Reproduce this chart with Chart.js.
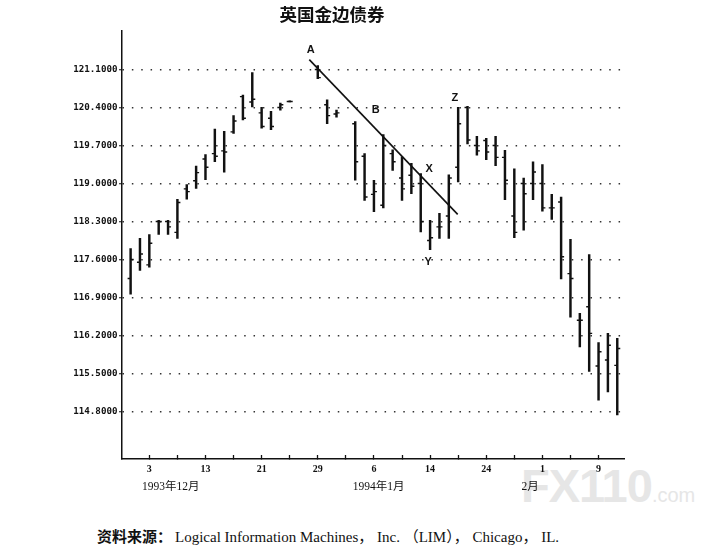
<!DOCTYPE html>
<html lang="zh">
<head>
<meta charset="utf-8">
<title>英国金边债券</title>
<script src="https://cdn.jsdelivr.net/npm/chart.js@4.4.1/dist/chart.umd.min.js"></script>
<style>
  html, body { margin: 0; padding: 0; background: #fff; }
  body { width: 702px; height: 553px; position: relative; overflow: hidden; }
  #box { position: absolute; left: 0; top: 0; width: 664px; height: 500px; z-index: 1; }
  #mark { position: absolute; left: 521px; top: 458px; color: #e6e6e6; white-space: nowrap; z-index: 0;
          font: bold 47px "Liberation Sans", Arial, sans-serif; letter-spacing: -1px; }
  #mark span { font-size: 20px; font-weight: normal; letter-spacing: 0; }
  #src { position: absolute; left: 97px; top: 528px; color: #111; white-space: nowrap; z-index: 2;
         font: 15px/16px "Liberation Serif", "Noto Sans CJK SC", serif; }
  #src b { font-family: "Noto Sans CJK SC", sans-serif; font-size: 15px; margin-right: 3px; }
</style>
</head>
<body>
<div id="mark">FX110<span>.com</span></div>
<div id="box"><canvas id="gilt" width="664" height="500"></canvas></div>
<div id="src"><b>资料来源：</b>Logical Information Machines， Inc. （LIM）， Chicago， IL.</div>
<script>
// 交易日序号：0 = 1993年12月3日，按周一至周五计；16、17、21 为休市日
var sessions = [-2, -1, 0, 1, 2, 3, 4, 5, 6, 7, 8, 9, 10, 11, 12, 13, 14, 15,
  18, 19, 20, 22, 23, 24, 25, 26, 27, 28, 29, 30, 31, 32, 33, 34, 35, 36,
  37, 38, 39, 40, 41, 42, 43, 44, 45, 46, 47, 48, 49, 50];

var opens = [117.25, 117.55, 117.50, 118.30, 118.30, 118.10, 118.90, 119.05, 119.45, 119.55,
  119.60, 119.95, 120.60, 120.50, 120.30, 120.20, 120.40, 120.51,
  121.10, 120.45, 120.28, 120.10, 119.50, 118.80, 118.60, 119.55, 119.10, 119.15, 119.00,
  117.95, 118.20, 118.40, 119.30, 120.40, 119.70, 119.79, 119.70, 119.48, 118.40, 119.00,
  119.00, 119.00, 118.55, 118.66, 117.34, 116.48, 116.73, 115.64, 115.75, 115.65];

var highs = [117.80, 117.99, 118.06, 118.32, 118.32, 118.71, 118.98, 119.32, 119.53, 120.00,
  119.96, 120.25, 120.63, 121.04, 120.40, 120.33, 120.48, 120.52,
  121.17, 120.54, 120.35, 120.14, 119.55, 119.06, 119.90, 119.62, 119.49, 119.37, 119.18,
  118.32, 118.45, 119.16, 120.40, 120.42, 119.87, 119.83, 119.87, 119.61, 119.27, 119.10,
  119.40, 119.35, 118.80, 118.75, 117.97, 116.61, 117.69, 116.07, 116.24, 116.15];

var lows = [116.96, 117.40, 117.46, 118.06, 118.06, 117.99, 118.71, 118.91, 119.07, 119.40,
  119.21, 119.92, 120.17, 120.41, 120.02, 119.99, 120.35, 120.50,
  120.93, 120.10, 120.22, 119.06, 118.69, 118.48, 118.55, 119.24, 118.69, 118.81, 118.11,
  117.78, 117.99, 117.99, 119.03, 119.73, 119.52, 119.44, 119.33, 118.70, 118.00, 118.14,
  118.70, 118.49, 118.34, 117.24, 116.54, 115.99, 115.54, 115.01, 115.16, 114.74];

var closes = [117.60, 117.70, 117.90, 118.30, 118.20, 118.65, 118.85, 119.20, 119.30, 119.50,
  119.58, 120.15, 120.20, 120.55, 120.05, 120.05, 120.45, 120.51,
  120.95, 120.25, 120.30, 119.40, 118.75, 118.85, 119.70, 119.40, 118.90, 118.95, 118.30,
  118.00, 118.20, 119.10, 120.10, 119.80, 119.60, 119.58, 119.48, 119.06, 118.10, 118.81,
  119.21, 118.55, 118.55, 117.65, 117.25, 116.48, 116.24, 115.90, 116.02, 115.96];

// 坐标轴刻度
var yTicks = [114.8, 115.5, 116.2, 116.9, 117.6, 118.3, 119.0, 119.7, 120.4, 121.1];
var tickSessions = [0, 3, 6, 9, 12, 15, 18, 21, 24, 27, 30, 33, 36, 39, 42, 45, 48];
var dayLabels = ['3', '', '13', '', '21', '', '29', '', '6', '', '14', '', '24', '', '1', '', '9'];
var monthSessions = [2.3, 24.5, 40.7];
var monthLabels = ['1993年12月', '1994年1月', '2月'];

// 趋势线 A → X 以及图中字母标注
var trendX = [17.09, 32.95];
var trendY = [121.28, 118.43];
var letterTexts = ['A', 'B', 'X', 'Y', 'Z'];
var letterX = [17.24, 24.2, 29.9, 29.8, 32.66];
var letterY = [121.45, 120.35, 119.26, 117.56, 120.58];

var INK = '#111';

var letterPlugin = {
  id: 'letters',
  afterDatasetsDraw: function (chart) {
    var c = chart.ctx, xs = chart.scales.x, ys = chart.scales.y;
    c.save();
    c.font = 'bold 11px "Liberation Sans", Arial, sans-serif';
    c.fillStyle = INK;
    c.textAlign = 'center';
    c.textBaseline = 'middle';
    letterTexts.forEach(function (t, i) {
      c.fillText(t, xs.getPixelForValue(letterX[i]), ys.getPixelForValue(letterY[i]));
    });
    c.restore();
  }
};

function tickDash(rotation, values) {
  return {
    type: 'scatter',
    data: sessions.map(function (s, i) { return { x: s, y: values[i] }; }),
    pointStyle: 'dash',
    pointRotation: rotation,
    pointRadius: 3,
    pointBorderWidth: 1.4,
    pointBorderColor: INK,
    pointBackgroundColor: INK
  };
}

new Chart(document.getElementById('gilt').getContext('2d'), {
  type: 'bar',
  data: {
    datasets: [
      {
        type: 'bar',
        data: sessions.map(function (s, i) { return { x: s, y: [lows[i], highs[i]] }; }),
        backgroundColor: INK,
        borderWidth: 0,
        barThickness: 1.8,
        grouped: false
      },
      tickDash(180, opens),
      tickDash(0, closes),
      {
        type: 'line',
        data: trendX.map(function (x, i) { return { x: x, y: trendY[i] }; }),
        borderColor: INK,
        borderWidth: 1.6,
        pointRadius: 0,
        fill: false
      }
    ]
  },
  options: {
    responsive: false,
    animation: false,
    events: [],
    layout: { padding: { left: 40, right: 40, top: 0, bottom: 0 } },
    plugins: {
      legend: { display: false },
      tooltip: { enabled: false },
      title: {
        display: true,
        text: '英国金边债券',
        color: INK,
        font: { family: '"Noto Sans CJK SC", sans-serif', size: 17.5, weight: 'bold' },
        padding: { top: 3.5, bottom: 6 }
      }
    },
    scales: {
      x: {
        type: 'linear',
        position: 'bottom',
        weight: 0,
        offset: false,
        bounds: 'data',
        min: -2.92,
        max: 50.72,
        afterBuildTicks: function (s) { s.ticks = tickSessions.map(function (v) { return { value: v }; }); },
        afterFit: function (s) { s.height = 20; },
        grid: { offset: false, drawOnChartArea: false, drawTicks: true, tickLength: -4, tickColor: INK, tickWidth: 1.3 },
        border: { color: INK, width: 1.5 },
        ticks: {
          autoSkip: false,
          maxRotation: 0,
          padding: 8,
          color: INK,
          font: { family: '"Liberation Serif", serif', size: 10, weight: 'bold' },
          callback: function (v, i) { return dayLabels[i]; }
        }
      },
      x2: {
        type: 'linear',
        position: 'bottom',
        weight: 1,
        offset: false,
        bounds: 'data',
        min: -2.92,
        max: 50.72,
        afterBuildTicks: function (s) { s.ticks = monthSessions.map(function (v) { return { value: v }; }); },
        afterFit: function (s) { s.height = 21; },
        grid: { display: false, drawTicks: false, offset: false },
        border: { display: false },
        ticks: {
          autoSkip: false,
          maxRotation: 0,
          padding: 1,
          color: INK,
          font: { family: '"Liberation Serif", "Noto Sans CJK SC", serif', size: 11.5 },
          callback: function (v, i) { return monthLabels[i]; }
        }
      },
      y: {
        type: 'linear',
        position: 'left',
        bounds: 'data',
        min: 113.926,
        max: 121.817,
        afterBuildTicks: function (s) { s.ticks = yTicks.map(function (v) { return { value: v }; }); },
        afterFit: function (s) { s.width = 82; },
        grid: { color: '#333', lineWidth: 1.5, tickLength: 3, tickColor: INK, tickWidth: 1.2 },
        border: { color: INK, width: 1.5, dash: [1.5, 7.86], dashOffset: 0 },
        ticks: {
          padding: 1.5,
          color: INK,
          font: { family: '"DejaVu Sans Mono", monospace', size: 9.2, weight: 'bold' },
          callback: function (v) { return Number(v).toFixed(4); }
        }
      }
    }
  },
  plugins: [letterPlugin]
});
</script>
</body>
</html>
